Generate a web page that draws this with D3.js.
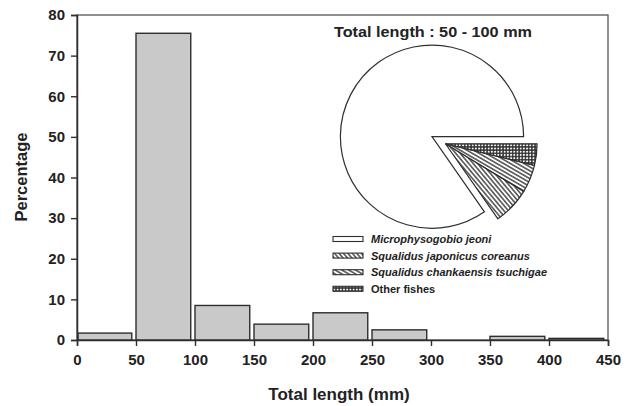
<!DOCTYPE html>
<html><head><meta charset="utf-8">
<script src="https://cdn.jsdelivr.net/npm/d3@7"></script>
<style>body{margin:0;background:#fff}svg{display:block}text{font-family:"Liberation Sans",Arial,sans-serif}</style>
</head><body><svg id="c" width="631" height="406"></svg>
<script>
const binStarts = [0, 50, 100, 150, 200, 250, 300, 350, 400];
const percents = [1.7, 75.5, 8.5, 3.9, 6.7, 2.5, 0, 0.9, 0.4];
const xTicks = [0, 50, 100, 150, 200, 250, 300, 350, 400, 450];
const yTicks = [0, 10, 20, 30, 40, 50, 60, 70, 80];
const species = ["Microphysogobio jeoni", "Squalidus japonicus coreanus", "Squalidus chankaensis tsuchigae", "Other fishes"];
const speciesShare = [84.7, 6.6, 4.9, 3.8];
const pieTitle = "Total length : 50 - 100 mm";

const svg = d3.select("#c");
const m = {l: 77, r: 608, t: 15, b: 340};
const x = d3.scaleLinear().domain([0, 450]).range([m.l, m.r]);
const y = d3.scaleLinear().domain([0, 80]).range([m.b, m.t]);
const ink = "#2e2e2e";

// patterns
const defs = svg.append("defs");
function linePat(id, angle, gap) {
  const p = defs.append("pattern").attr("id", id).attr("patternUnits", "userSpaceOnUse")
    .attr("width", gap).attr("height", gap).attr("patternTransform", `rotate(${angle})`);
  p.append("rect").attr("width", gap).attr("height", gap).attr("fill", "#fff");
  p.append("line").attr("x1", gap/2).attr("x2", gap/2).attr("y1", 0).attr("y2", gap)
    .attr("stroke", ink).attr("stroke-width", 1.3);
}
linePat("pJap", -40, 3.4);
linePat("pChk", -60, 3.4);
const pd = defs.append("pattern").attr("id", "pOth").attr("patternUnits", "userSpaceOnUse")
  .attr("width", 3.2).attr("height", 3.2);
pd.append("rect").attr("width", 3.2).attr("height", 3.2).attr("fill", "#333");
pd.append("circle").attr("cx", 1.6).attr("cy", 1.6).attr("r", 1.0).attr("fill", "#fff");
const fills = ["#fff", "url(#pJap)", "url(#pChk)", "url(#pOth)"];

// frame
svg.append("rect").attr("x", m.l).attr("y", m.t).attr("width", m.r - m.l).attr("height", m.b - m.t)
  .attr("fill", "none").attr("stroke", "#555").attr("stroke-width", 1.3);

// bars
const barW = 46.4;
svg.append("g").selectAll("rect").data(binStarts.map((s, i) => ({s, v: percents[i]})).filter(d => d.v > 0))
  .join("rect")
  .attr("x", d => x(d.s) + (d.s === 0 ? 1 : 0))
  .attr("y", d => y(d.v))
  .attr("width", d => x(d.s + barW) - x(d.s) - (d.s === 0 ? 1 : 0))
  .attr("height", d => y(0) - y(d.v))
  .attr("fill", "#c9c9c9").attr("stroke", ink).attr("stroke-width", 1.4);

// axes
const xa = svg.append("g").attr("transform", `translate(0,${m.b})`)
  .call(d3.axisBottom(x).tickValues(xTicks).tickSize(6).tickPadding(8));
const ya = svg.append("g").attr("transform", `translate(${m.l},0)`)
  .call(d3.axisLeft(y).tickValues(yTicks).tickSize(6).tickPadding(6));
[xa, ya].forEach(a => {
  a.select(".domain").attr("stroke", ink).attr("stroke-width", 1.5);
  a.selectAll(".tick line").attr("stroke", ink).attr("stroke-width", 1.4);
  a.selectAll(".tick text").attr("fill", "#222").attr("font-size", 15).attr("font-weight", "bold")
    .attr("font-family", "Liberation Sans, Arial, sans-serif");
});

svg.append("text").attr("x", 339).attr("y", 400).attr("text-anchor", "middle")
  .attr("font-size", 17).attr("font-weight", "bold").attr("fill", "#222").text("Total length (mm)");
svg.append("text").attr("transform", "translate(27,177) rotate(-90)").attr("text-anchor", "middle")
  .attr("font-size", 16.5).attr("font-weight", "bold").attr("fill", "#222").text("Percentage");

// pie
const cx = 432, cy = 136.7, R = 91.6;
const arcs = d3.pie().sort(null).startAngle(Math.PI / 2).endAngle(Math.PI / 2 - 2 * Math.PI)(speciesShare);
const arcGen = d3.arc().innerRadius(0).outerRadius(R);
const midA = (arcs[1].startAngle + arcs[3].endAngle) / 2;
const off = 15.2;
const pg = svg.append("g");
arcs.forEach((a, i) => {
  const dx = i === 0 ? 0 : off * Math.sin(midA), dy = i === 0 ? 0 : -off * Math.cos(midA);
  pg.append("path").attr("d", arcGen(a)).attr("transform", `translate(${cx + dx},${cy + dy})`)
    .attr("fill", fills[i]).attr("stroke", ink).attr("stroke-width", 1.2).attr("stroke-linejoin", "miter");
});

svg.append("text").attr("x", 433).attr("y", 37).attr("text-anchor", "middle")
  .attr("font-size", 14.5).attr("font-weight", "bold").attr("fill", "#222")
  .attr("textLength", 198).attr("lengthAdjust", "spacingAndGlyphs").text(pieTitle);

// legend
const ly0 = 239, lstep = 16.6;
const lg = svg.append("g");
species.forEach((s, i) => {
  const yy = ly0 + i * lstep;
  lg.append("rect").attr("x", 333).attr("y", yy - 2.5).attr("width", 30).attr("height", 5)
    .attr("fill", fills[i]).attr("stroke", ink).attr("stroke-width", 1.1);
  lg.append("text").attr("x", 371).attr("y", yy + 4).attr("font-size", 11).attr("font-weight", "bold")
    .attr("font-style", i < 3 ? "italic" : "normal").attr("fill", "#222").text(s);
});
</script></body></html>
